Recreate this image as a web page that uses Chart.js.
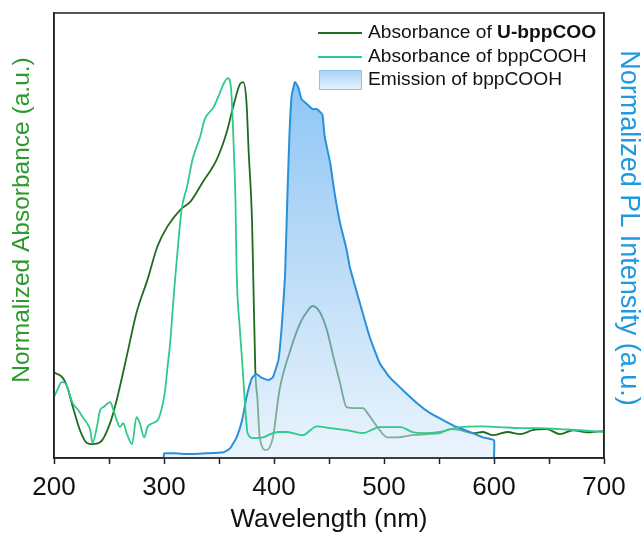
<!DOCTYPE html>
<html>
<head>
<meta charset="utf-8">
<script src="https://cdn.jsdelivr.net/npm/chart.js@4/dist/chart.umd.min.js"></script>
<style>
  html, body { margin: 0; padding: 0; background: #ffffff; }
  #wrap { width: 643px; height: 535px; }
</style>
</head>
<body>
<div id="wrap"><canvas id="c" width="643" height="535"></canvas></div>
<script>
// Absorbance of U-bppCOO (normalized)
const uWl  = [200, 208, 212, 217, 224, 230, 235, 242, 251, 257, 266, 275, 285, 294, 303, 315, 324, 335, 348, 357, 363, 369, 372, 375, 377, 380, 381, 383, 385, 387, 393, 399, 405, 415, 424, 430, 435, 442, 448, 454, 460, 466, 475, 481, 485, 494, 503, 512, 526, 540, 551, 560, 569, 581, 590, 599, 612, 624, 635, 648, 660, 672, 685, 696, 700];
const uAbs = [0.19, 0.175, 0.15, 0.095, 0.025, -0.008, -0.011, -0.006, 0.048, 0.113, 0.234, 0.358, 0.451, 0.544, 0.600, 0.648, 0.670, 0.724, 0.789, 0.865, 0.938, 1.000, 1.006, 0.949, 0.808, 0.620, 0.479, 0.197, 0.113, 0.008, -0.028, 0.008, 0.141, 0.254, 0.330, 0.361, 0.377, 0.358, 0.310, 0.234, 0.161, 0.093, 0.090, 0.090, 0.076, 0.037, 0.008, 0.008, 0.014, 0.017, 0.020, 0.031, 0.028, 0.020, 0.023, 0.014, 0.023, 0.017, 0.028, 0.031, 0.017, 0.028, 0.022, 0.025, 0.025];

// Absorbance of bppCOOH (normalized)
const hWl  = [200, 203, 207, 210, 212, 217, 222, 226, 230, 233, 235, 239, 242, 245, 251, 254, 257, 260, 263, 266, 271, 275, 278, 282, 285, 290, 295, 298, 301, 303, 305.5, 308, 310, 312, 316, 321, 326, 333, 337, 345, 351, 355, 358, 361, 363, 365, 366, 369, 371, 374, 376, 381, 390, 399, 405, 412, 426, 439, 451, 466, 481, 496, 515, 526, 539, 551, 569, 587, 605, 624, 642, 660, 678, 700];
const hAbs = [0.121, 0.141, 0.163, 0.161, 0.149, 0.104, 0.085, 0.065, 0.048, 0.028, -0.008, 0.037, 0.085, 0.093, 0.107, 0.085, 0.056, 0.037, 0.048, 0.020, -0.011, 0.065, 0.048, 0.008, 0.037, 0.048, 0.060, 0.090, 0.140, 0.200, 0.270, 0.370, 0.450, 0.520, 0.648, 0.713, 0.789, 0.854, 0.901, 0.935, 0.977, 1.006, 1.017, 0.986, 0.854, 0.668, 0.479, 0.310, 0.225, 0.085, 0.020, 0.006, 0.008, 0.020, 0.023, 0.023, 0.014, 0.039, 0.034, 0.028, 0.020, 0.037, 0.037, 0.023, 0.020, 0.023, 0.037, 0.039, 0.037, 0.034, 0.034, 0.031, 0.028, 0.023];

// Emission of bppCOOH (normalized PL intensity), 300–600 nm
const emWl  = [300, 300, 310, 324, 337, 354, 360, 366, 371, 375, 380, 384, 389, 395, 399, 404, 407, 410, 412, 414, 416, 419, 422, 425, 430, 435, 439, 444, 446, 451, 455, 460, 466, 469, 478, 487, 496, 505, 517, 530, 542, 554, 566, 578, 590, 600, 600];
const emInt = [-0.05, -0.037, -0.037, -0.039, -0.037, -0.034, -0.023, 0.008, 0.056, 0.121, 0.175, 0.186, 0.175, 0.169, 0.177, 0.225, 0.318, 0.459, 0.668, 0.854, 0.966, 1.006, 0.992, 0.958, 0.944, 0.930, 0.930, 0.915, 0.854, 0.780, 0.696, 0.611, 0.535, 0.485, 0.386, 0.290, 0.217, 0.177, 0.141, 0.104, 0.076, 0.056, 0.037, 0.023, 0.008, 0.000, -0.05];

// Labelled ticks along the wavelength axis
const xTickLabels = [200, 300, 400, 500, 600, 700];

const seriesLabels = ['Absorbance of U-bppCOO', 'Absorbance of bppCOOH', 'Emission of bppCOOH'];
const boldPart = 'U-bppCOO';
const leftTitle = 'Normalized Absorbance (a.u.)';
const rightTitle = 'Normalized PL Intensity (a.u.)';

const FONT = "'Liberation Sans', Arial, Helvetica, sans-serif";
const DARK_GREEN = '#1f6b1f';
const LIGHT_GREEN = '#2fc98b';
const BLUE = '#2990dc';

const pts = (xs, ys) => xs.map((x, i) => ({ x: x, y: ys[i] }));

function emissionFill(ctx) {
  const chart = ctx.chart;
  const area = chart.chartArea;
  if (!area) return 'rgba(120,184,240,0.55)';
  const g = chart.ctx.createLinearGradient(0, area.top, 0, area.bottom);
  g.addColorStop(0.0, 'rgba(40,148,240,0.58)');
  g.addColorStop(0.15, 'rgba(46,151,239,0.55)');
  g.addColorStop(0.5, 'rgba(120,184,240,0.55)');
  g.addColorStop(1.0, 'rgba(217,235,250,0.55)');
  return g;
}

// Legend with a partly bold first entry, drawn in the upper right of the plot
const legendPlugin = {
  id: 'mixedLegend',
  afterDraw(chart) {
    const c = chart.ctx;
    const x0 = 318, x1 = 362, tx = 368;
    const rows = [33, 57, 80];
    const size = 19.2;
    c.save();
    c.textBaseline = 'middle';
    c.fillStyle = '#111111';
    // entry 1
    c.strokeStyle = DARK_GREEN; c.lineWidth = 1.8;
    c.beginPath(); c.moveTo(x0, rows[0]); c.lineTo(x1, rows[0]); c.stroke();
    const lbl = seriesLabels[0];
    const plain = lbl.slice(0, lbl.length - boldPart.length);
    c.font = size + 'px ' + FONT;
    c.fillText(plain, tx, rows[0]);
    const w = c.measureText(plain).width;
    c.font = 'bold ' + size + 'px ' + FONT;
    c.fillText(boldPart, tx + w, rows[0]);
    // entry 2
    c.strokeStyle = LIGHT_GREEN;
    c.beginPath(); c.moveTo(x0, rows[1]); c.lineTo(x1, rows[1]); c.stroke();
    c.font = size + 'px ' + FONT;
    c.fillText(seriesLabels[1], tx, rows[1]);
    // entry 3 (filled box)
    const g = c.createLinearGradient(0, rows[2] - 10, 0, rows[2] + 10);
    g.addColorStop(0, '#a8d2f6');
    g.addColorStop(1, '#e8f3fd');
    c.fillStyle = g;
    c.fillRect(x0 + 1, rows[2] - 10, x1 - x0 - 1, 20);
    c.strokeStyle = '#8cc3ec'; c.lineWidth = 1;
    c.strokeRect(x0 + 1.5, rows[2] - 9.5, x1 - x0 - 2, 19);
    c.fillStyle = '#111111';
    c.fillText(seriesLabels[2], tx, rows[2]);
    c.restore();
  }
};

// Closed frame around the plot area plus the two vertical axis titles
const framePlugin = {
  id: 'frame',
  afterDatasetsDraw(chart) {
    const a = chart.chartArea;
    const c = chart.ctx;
    c.save();
    c.strokeStyle = '#222222';
    c.lineWidth = 1.5;
    c.strokeRect(a.left, a.top, a.right - a.left, a.bottom - a.top);

    c.textAlign = 'center';
    c.textBaseline = 'middle';
    // left title
    c.save();
    c.translate(22, 220);
    c.rotate(-Math.PI / 2);
    c.fillStyle = '#2c9a2c';
    c.font = '24.5px ' + FONT;
    c.fillText(leftTitle, 0, 0);
    c.restore();
    // right title
    c.save();
    c.translate(628, 228);
    c.rotate(Math.PI / 2);
    c.fillStyle = '#1f9ae0';
    c.font = '27px ' + FONT;
    c.fillText(rightTitle, 0, 0);
    c.restore();
    c.restore();
  }
};

new Chart(document.getElementById('c'), {
  type: 'line',
  data: {
    datasets: [
      {
        label: seriesLabels[0],
        data: pts(uWl, uAbs),
        yAxisID: 'y',
        borderColor: DARK_GREEN,
        borderWidth: 1.8,
        pointRadius: 0,
        cubicInterpolationMode: 'monotone',
        fill: false,
        order: 3
      },
      {
        label: seriesLabels[1],
        data: pts(hWl, hAbs),
        yAxisID: 'y',
        borderColor: LIGHT_GREEN,
        borderWidth: 1.8,
        pointRadius: 0,
        cubicInterpolationMode: 'monotone',
        fill: false,
        order: 1
      },
      {
        label: seriesLabels[2],
        data: pts(emWl, emInt),
        yAxisID: 'y1',
        borderColor: BLUE,
        borderWidth: 2,
        pointRadius: 0,
        tension: 0.12,
        fill: 'start',
        backgroundColor: emissionFill,
        order: 2
      }
    ]
  },
  options: {
    responsive: false,
    animation: false,
    layout: { padding: { top: 13, left: 0, right: 0, bottom: 0 } },
    plugins: {
      legend: { display: false },
      tooltip: { enabled: false }
    },
    scales: {
      x: {
        type: 'linear',
        min: 200,
        max: 700,
        ticks: {
          stepSize: 50,
          autoSkip: false,
          maxRotation: 0,
          padding: 8,
          color: '#111111',
          font: { family: FONT, size: 26 },
          callback: (v) => xTickLabels.includes(v) ? String(v) : ''
        },
        grid: {
          drawOnChartArea: false,
          drawTicks: true,
          tickLength: 6,
          tickColor: '#222222',
          tickWidth: 1.5
        },
        border: { color: '#222222', width: 1.5 },
        title: {
          display: true,
          text: 'Wavelength (nm)',
          color: '#111111',
          font: { family: FONT, size: 26 },
          padding: { top: 0, bottom: 0 }
        },
        afterFit: (s) => { s.height = 77; }
      },
      y: {
        position: 'left',
        min: -0.05,
        max: 1.2,
        ticks: { display: false },
        grid: { display: false, drawTicks: false },
        border: { color: '#222222', width: 1.5 },
        title: { display: false },
        afterFit: (s) => { s.width = 54; }
      },
      y1: {
        position: 'right',
        min: -0.05,
        max: 1.2,
        ticks: { display: false },
        grid: { display: false, drawTicks: false },
        border: { color: '#222222', width: 1.5 },
        title: { display: false },
        afterFit: (s) => { s.width = 39; }
      }
    }
  },
  plugins: [legendPlugin, framePlugin]
});
</script>
</body>
</html>
